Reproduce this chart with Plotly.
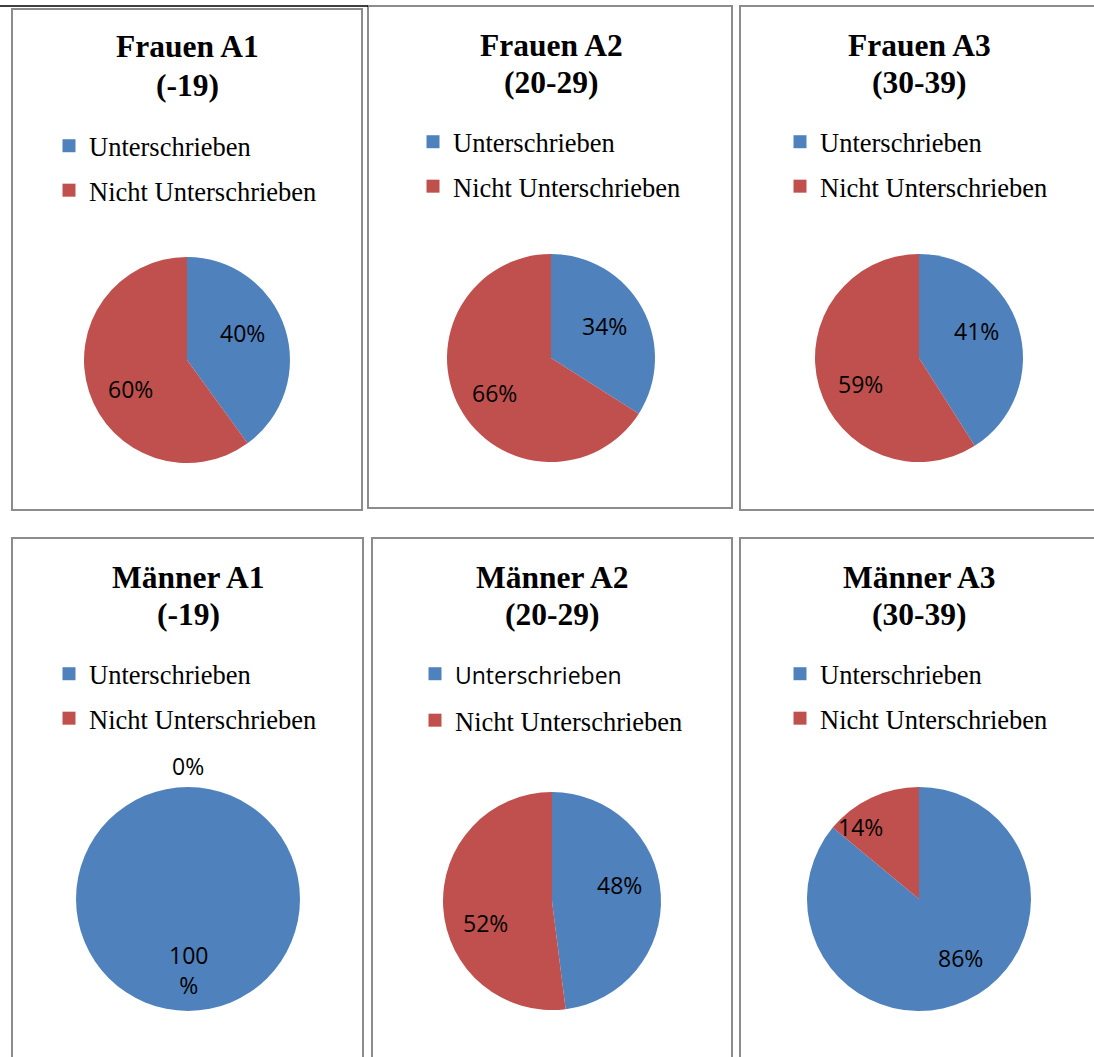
import math
import plotly.graph_objects as go

# ---- data -------------------------------------------------------------
panel_titles = ["Frauen A1", "Frauen A2", "Frauen A3",
                "Männer A1", "Männer A2", "Männer A3"]
age_groups = ["(-19)", "(20-29)", "(30-39)", "(-19)", "(20-29)", "(30-39)"]
categories = ["Unterschrieben", "Nicht Unterschrieben"]
signed_pct = [40, 34, 41, 100, 48, 86]
not_signed_pct = [60, 66, 59, 0, 52, 14]

# ---- style / layout ---------------------------------------------------
W, H = 1094, 1057
COLORS = ["#4F81BD", "#C0504D"]
SERIF = "Liberation Serif, Times New Roman, serif"
SANS = "Open Sans, Noto Sans, sans-serif"

# panel frames (px): x0, x1, y0, y1
frames = [(12, 362, 9, 510), (368, 732, 6, 508), (740, 1100, 6, 510),
          (12, 363, 538, 1065), (372, 732, 538, 1065), (740, 1100, 538, 1065)]
# pie centre (px) and radius (px)
pies = [(187, 360, 103), (551, 358, 104), (919, 358, 104),
        (188, 899, 112), (552, 901, 109), (919, 899, 112)]
# title: centre x and the centres of its two lines (px)
title_pos = [(187, 47, 85), (551, 45, 82), (919, 45, 82),
             (188, 577, 614), (552, 577, 614), (919, 577, 614)]
# left edge of legend text and centre of first legend row (px)
legend_pos = [(89, 147), (453, 143), (820, 143),
              (89, 675), (455, 675), (820, 675)]
# label placement per slice: (radial fraction, angular shift in degrees)
label_place = [
    [(0.60, -8), (0.62, -9)],
    [(0.60, -2), (0.64, -3)],
    [(0.61, -9), (0.62, -8)],
    [(0.63, 0), (1.19, 0)],
    [(0.64, -10), (0.64, -15)],
    [(0.65, -10), (0.83, -14)],
]


def px_x(x):
    return x / W


def px_y(y):
    return 1 - y / H


fig = go.Figure()
annotations = []
shapes = []
layout_legends = {}

for i in range(6):
    cx, cy, r = pies[i]
    vals = [signed_pct[i], not_signed_pct[i]]
    fig.add_trace(go.Pie(
        labels=categories,
        values=vals,
        sort=False,
        direction="clockwise",
        rotation=0,
        marker=dict(colors=COLORS, line=dict(width=0)),
        textinfo="none",
        hoverinfo="label+percent",
        showlegend=False,
        domain=dict(x=[px_x(cx - r), px_x(cx + r)],
                    y=[px_y(cy + r), px_y(cy - r)]),
    ))

    # percentage labels placed at each slice's mid-angle
    total = sum(vals)
    start = 0.0
    for k, v in enumerate(vals):
        sweep = 360.0 * v / total
        mid = start + sweep / 2
        start += sweep
        frac, shift = label_place[i][k]
        ang = math.radians(mid + shift)
        lx = cx + frac * r * math.sin(ang)
        ly = cy - frac * r * math.cos(ang)
        txt = f"{v}%" if v < 100 else f"{v}<br>%"
        annotations.append(dict(
            x=px_x(lx), y=px_y(ly), xref="paper", yref="paper",
            text=txt, showarrow=False, xanchor="center", yanchor="middle",
            font=dict(family=SANS, size=23, color="#000000"),
        ))

    # two-line bold title
    tx, ty1, ty2 = title_pos[i]
    for line, ty in ((panel_titles[i], ty1), (age_groups[i], ty2)):
        annotations.append(dict(
            x=px_x(tx), y=px_y(ty), xref="paper", yref="paper",
            text=f"<b>{line}</b>",
            showarrow=False, xanchor="center", yanchor="middle",
            font=dict(family=SERIF, size=31.5, color="#000000"),
        ))

    # frame
    x0, x1, y0, y1 = frames[i]
    shapes.append(dict(type="rect", xref="paper", yref="paper",
                       x0=px_x(x0), x1=px_x(x1), y0=px_y(y1), y1=px_y(y0),
                       line=dict(color="#8C8C8C", width=2)))

    # legend: one entry per category, each in its own group for spacing
    leg_name = "legend" if i == 0 else f"legend{i + 1}"
    for k, cat in enumerate(categories):
        name = cat
        if i == 4 and k == 0:
            name = f'<span style="font-family:{SANS};font-size:23px">{cat}</span>'
        fig.add_trace(go.Scatter(
            x=[None], y=[None], mode="markers", name=name,
            marker=dict(symbol="square", size=13, color=COLORS[k]),
            legend=leg_name, legendgroup=f"p{i}c{k}", showlegend=True,
            hoverinfo="skip",
        ))
    lx, ly = legend_pos[i]
    layout_legends[leg_name] = dict(
        x=px_x(lx - 40), y=px_y(ly - 25), xanchor="left", yanchor="top",
        bgcolor="rgba(0,0,0,0)", borderwidth=0,
        font=dict(family=SERIF, size=26.5, color="#000000"),
        tracegroupgap=9 if i == 4 else 7,
        itemclick=False, itemdoubleclick=False,
    )

# rule across the top of the page
shapes.append(dict(type="line", xref="paper", yref="paper",
                   x0=0, x1=px_x(368), y0=px_y(6), y1=px_y(6),
                   line=dict(color="#000000", width=1.5)))

fig.update_layout(
    width=W, height=H,
    margin=dict(l=0, r=0, t=0, b=0),
    paper_bgcolor="white", plot_bgcolor="white",
    xaxis=dict(visible=False), yaxis=dict(visible=False),
    annotations=annotations, shapes=shapes,
    **layout_legends,
)

fig.write_html("out.html")
